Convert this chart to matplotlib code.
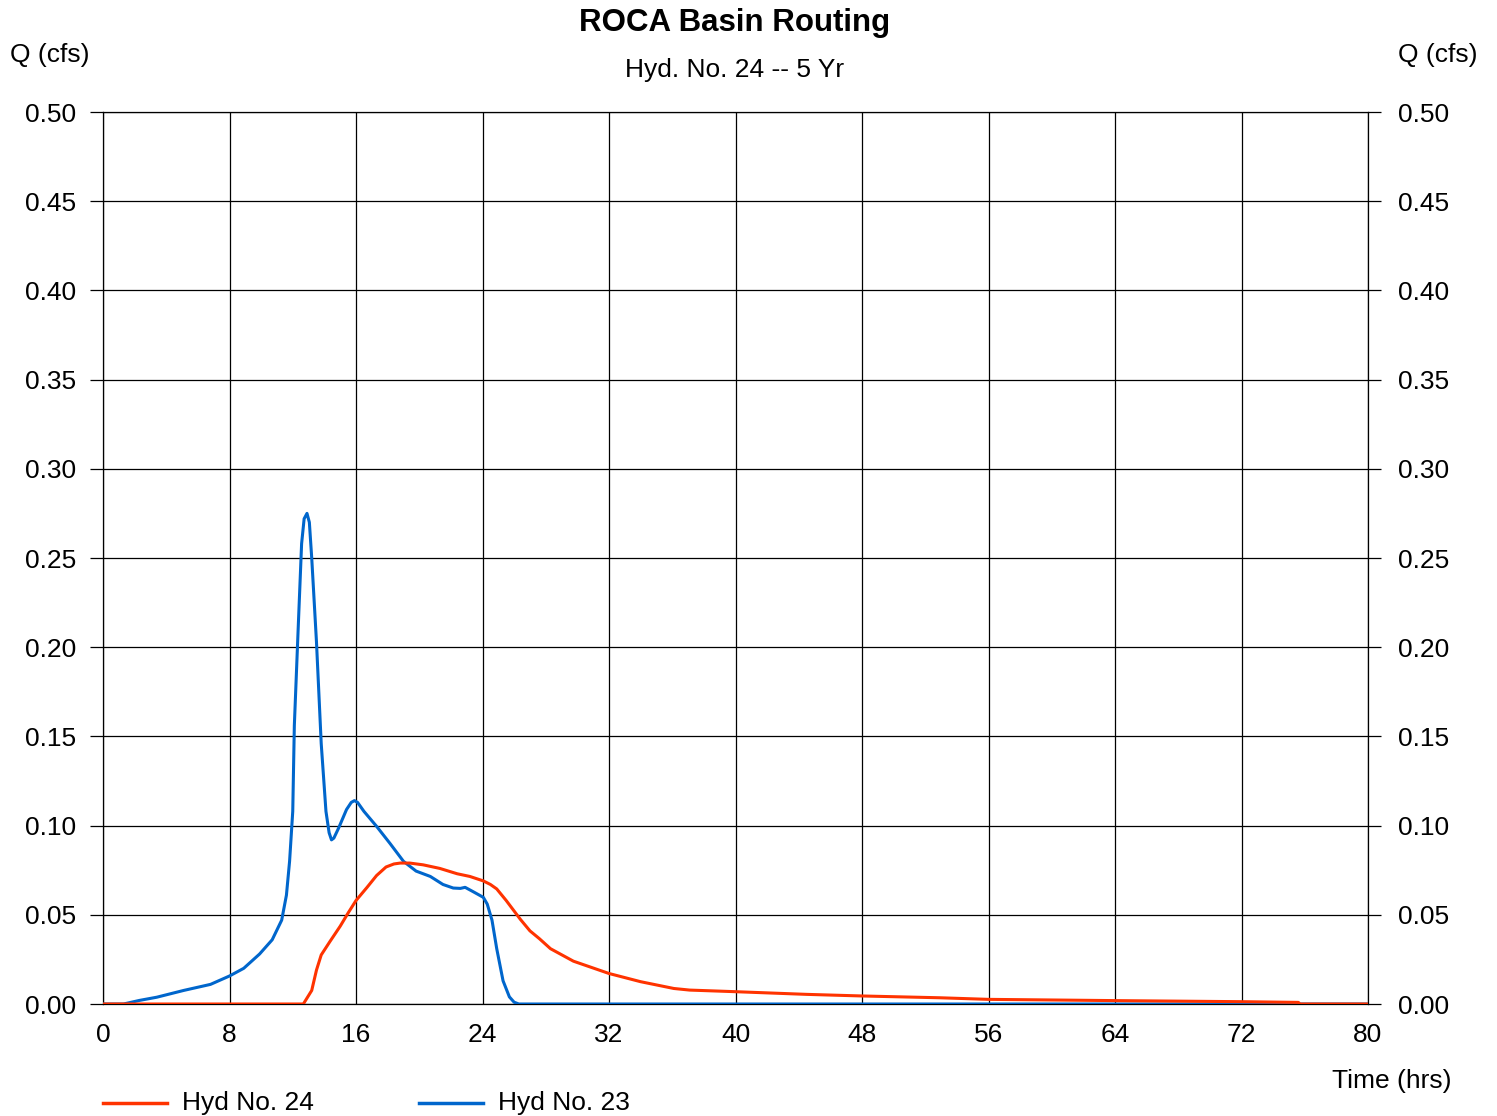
import matplotlib
matplotlib.use("Agg")
import matplotlib.pyplot as plt
import numpy as np

plt.rcParams['font.family'] = ['Liberation Sans', 'DejaVu Sans']

# Hyd No. 23 (blue) - inflow
t23 = [0, 1.3, 2.3, 3.4, 5.1, 6.8, 8.0, 8.9, 9.9, 10.7, 11.3, 11.6, 11.8, 12.0, 12.1,
       12.35, 12.56, 12.72, 12.9, 13.05, 13.2, 13.5, 13.8, 14.1, 14.3, 14.45, 14.6,
       14.9, 15.4, 15.7, 15.9, 16.1, 16.5, 17.3, 18.15, 19.0, 19.8, 20.7, 21.5, 22.15,
       22.6, 22.9, 23.4, 24.05, 24.3, 24.6, 24.9, 25.3, 25.7, 26.0, 26.3, 80]
q23 = [0, 0.0, 0.002, 0.0038, 0.0076, 0.011, 0.0157, 0.020, 0.028, 0.036, 0.047,
       0.061, 0.080, 0.108, 0.156, 0.212, 0.258, 0.272, 0.275, 0.270, 0.250, 0.203,
       0.146, 0.108, 0.096, 0.092, 0.093, 0.0986, 0.109, 0.113, 0.114, 0.113, 0.108,
       0.0996, 0.090, 0.080, 0.0745, 0.0715, 0.067, 0.065, 0.0648, 0.0654, 0.063,
       0.0598, 0.056, 0.047, 0.031, 0.013, 0.004, 0.001, 0.0, 0.0]

# Hyd No. 24 (red) - routed outflow
t24 = [0, 12.67, 13.2, 13.5, 13.8, 14.35, 15.0, 15.5, 16.0, 16.7, 17.3, 17.9, 18.4,
       18.8, 19.4, 20.25, 21.3, 22.4, 23.2, 24.05, 24.5, 24.9, 25.5, 26.4, 27.0, 27.6,
       28.3, 29.75, 32.0, 34.0, 36.1, 37.1, 40.0, 44.5, 48.0, 52.9, 56.0, 64.0, 72.0,
       75.6, 75.7, 80]
q24 = [0, 0, 0.0076, 0.019, 0.0275, 0.035, 0.0436, 0.051, 0.058, 0.0654, 0.072,
       0.0768, 0.0785, 0.079, 0.079, 0.078, 0.076, 0.073, 0.0715, 0.069, 0.067,
       0.0645, 0.058, 0.0474, 0.041, 0.0366, 0.031, 0.024, 0.0171, 0.0125, 0.0087,
       0.0078, 0.0069, 0.0054, 0.0045, 0.0035, 0.0026, 0.0019, 0.0013, 0.0009, 0.0, 0.0]

x_ticks = [0, 8, 16, 24, 32, 40, 48, 56, 64, 72, 80]
y_ticks = [0.00, 0.05, 0.10, 0.15, 0.20, 0.25, 0.30, 0.35, 0.40, 0.45, 0.50]

RED = '#ff3300'
BLUE = '#0066cc'
FS = 19

fig = plt.figure(figsize=(14.97, 11.16), dpi=100)
ax = fig.add_axes([103/1497, 1 - 1004/1116, 1265/1497, 892/1116])

ax.plot(t23, q23, color=BLUE, lw=2.2, zorder=3, solid_joinstyle='round')
ax.plot(t24, q24, color=RED, lw=2.2, zorder=4, solid_joinstyle='round')

ax.set_xlim(0, 80)
ax.set_ylim(0, 0.5)
ax.set_xticks(x_ticks)
ax.set_yticks(y_ticks)
ax.set_xticklabels([str(v) for v in x_ticks])
ax.set_yticklabels([f"{v:.2f}" for v in y_ticks])
ax.grid(True, color='black', lw=0.9)
ax.set_axisbelow(True)
for s in ax.spines.values():
    s.set_color('black')
    s.set_linewidth(0.9)

ax.tick_params(axis='y', which='both', left=True, right=True, labelleft=True,
               labelright=False, length=9.5, width=0.9, direction='out', pad=10,
               labelsize=FS)
ax.tick_params(axis='x', length=0, pad=14, labelsize=FS)

# right-side labels (slightly larger pad)
axr = ax.twinx()
axr.set_ylim(0, 0.5)
axr.set_yticks(y_ticks)
axr.set_yticklabels([f"{v:.2f}" for v in y_ticks])
axr.tick_params(axis='y', length=9.5, width=0.9, direction='out', pad=12,
                labelsize=FS)
for s in axr.spines.values():
    s.set_visible(False)

fig.text(735/1497, 1 - 23/1116, 'ROCA Basin Routing', ha='center', va='center',
         fontsize=22.5, fontweight='bold')
fig.text(735/1497, 1 - 70/1116, 'Hyd. No. 24 -- 5 Yr', ha='center', va='center',
         fontsize=FS)
fig.text(10/1497, 1 - 55/1116, 'Q (cfs)', ha='left', va='center', fontsize=FS)
fig.text(1478/1497, 1 - 55/1116, 'Q (cfs)', ha='right', va='center', fontsize=FS)
fig.text(1452/1497, 1 - 1081/1116, 'Time (hrs)', ha='right', va='center', fontsize=FS)

# legend
ly = 1 - 1103/1116
fig.add_artist(plt.Line2D([103/1497, 167/1497], [ly, ly], color=RED, lw=2.5))
fig.text(182/1497, ly, 'Hyd No. 24', ha='left', va='center', fontsize=FS)
fig.add_artist(plt.Line2D([419/1497, 483/1497], [ly, ly], color=BLUE, lw=2.5))
fig.text(498/1497, ly, 'Hyd No. 23', ha='left', va='center', fontsize=FS)

fig.savefig('out.png', dpi=100)
